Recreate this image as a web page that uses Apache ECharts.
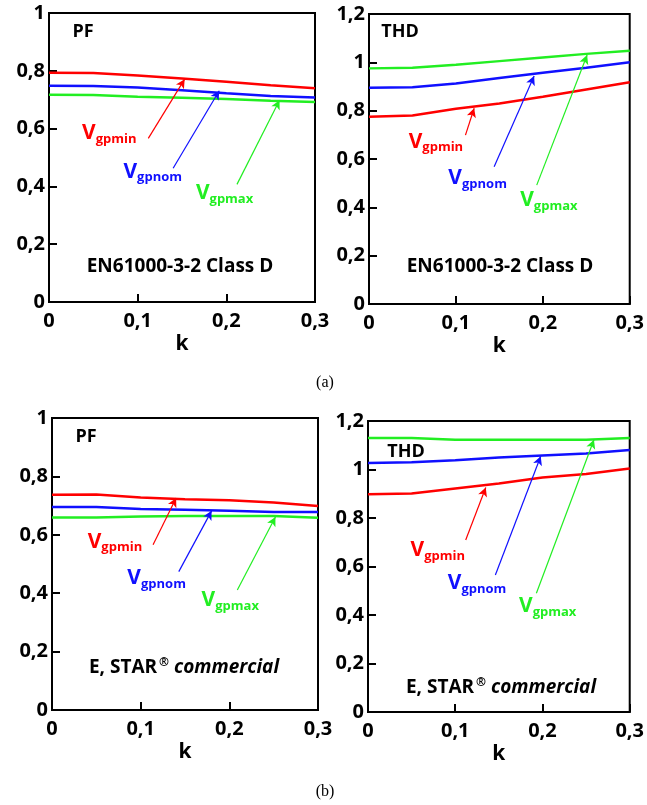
<!DOCTYPE html>
<html>
<head>
<meta charset="utf-8">
<script src="https://cdn.jsdelivr.net/npm/echarts@6/dist/echarts.min.js"></script>
<style>
  html, body { margin: 0; padding: 0; background: #fff; }
  #main { width: 647px; height: 805px; }
</style>
</head>
<body>
<div id="main"></div>
<script>
// k values shared by all four panels
var kVals = [0, 0.05, 0.1, 0.15, 0.2, 0.25, 0.3];

// (a) EN61000-3-2 Class D
var pfA_min = [0.793, 0.792, 0.784, 0.773, 0.762, 0.750, 0.740];
var pfA_nom = [0.748, 0.747, 0.742, 0.733, 0.722, 0.713, 0.708];
var pfA_max = [0.717, 0.716, 0.710, 0.707, 0.702, 0.696, 0.692];
var thdA_min = [0.775, 0.780, 0.808, 0.830, 0.858, 0.888, 0.918];
var thdA_nom = [0.895, 0.897, 0.912, 0.935, 0.957, 0.978, 1.000];
var thdA_max = [0.975, 0.978, 0.990, 1.005, 1.020, 1.035, 1.048];

// (b) E, STAR commercial
var pfB_min = [0.737, 0.738, 0.728, 0.722, 0.718, 0.711, 0.699];
var pfB_nom = [0.695, 0.695, 0.688, 0.686, 0.682, 0.678, 0.678];
var pfB_max = [0.659, 0.659, 0.663, 0.664, 0.664, 0.664, 0.658];
var thdB_min = [0.898, 0.901, 0.922, 0.942, 0.967, 0.981, 1.004];
var thdB_nom = [1.027, 1.030, 1.038, 1.049, 1.058, 1.066, 1.080];
var thdB_max = [1.130, 1.130, 1.123, 1.123, 1.123, 1.123, 1.130];

// annotation label + arrow positions: [labelX, labelY, fromX, fromY, toX, toY]
var notesPfA = {
  min: [0.068, 0.583, 0.112, 0.566, 0.153, 0.771],
  nom: [0.117, 0.451, 0.140, 0.463, 0.192, 0.731],
  max: [0.198, 0.376, 0.212, 0.407, 0.260, 0.698]
};
var notesThdA = {
  min: [0.077, 0.672, 0.111, 0.699, 0.121, 0.810],
  nom: [0.125, 0.520, 0.144, 0.568, 0.190, 0.943],
  max: [0.207, 0.430, 0.193, 0.492, 0.251, 1.030]
};
var notesPfB = {
  min: [0.071, 0.577, 0.114, 0.566, 0.140, 0.726],
  nom: [0.118, 0.451, 0.143, 0.474, 0.180, 0.682],
  max: [0.201, 0.377, 0.209, 0.411, 0.252, 0.661]
};
var notesThdB = {
  min: [0.080, 0.668, 0.112, 0.709, 0.135, 0.926],
  nom: [0.125, 0.531, 0.146, 0.565, 0.198, 1.055],
  max: [0.206, 0.435, 0.193, 0.490, 0.259, 1.123]
};

var RED = '#ff0000', BLUE = '#1010ff', GREEN = '#22ee22';
var FONT = 'Open Sans';

function fmt(v) {
  if (Math.abs(v - Math.round(v)) < 1e-9) return String(Math.round(v));
  return v.toFixed(1).replace('.', ',');
}

function pairs(ys) {
  return kVals.map(function (k, i) { return [k, ys[i]]; });
}

function mkSeries(idx, ys, color, note, sub) {
  return {
    type: 'line',
    xAxisIndex: idx,
    yAxisIndex: idx,
    data: pairs(ys),
    showSymbol: false,
    smooth: false,
    lineStyle: { color: color, width: 2.5 },
    itemStyle: { color: color },
    silent: true,
    markLine: {
      silent: true,
      symbol: ['none', 'arrow'],
      symbolSize: [7, 9],
      label: { show: false },
      lineStyle: { color: color, width: 1.2, type: 'solid' },
      data: [[{ coord: [note[2], note[3]] }, { coord: [note[4], note[5]] }]]
    },
    markPoint: {
      silent: true,
      symbol: 'circle',
      symbolSize: 0,
      data: [{
        coord: [note[0], note[1]],
        label: {
          show: true,
          position: 'inside',
          formatter: '{v|V}{s|' + sub + '}',
          rich: {
            v: { fontFamily: FONT, fontWeight: 'bold', fontSize: 21, color: color },
            s: { fontFamily: FONT, fontWeight: 'bold', fontSize: 13, color: color, padding: [12, 0, 0, 0] }
          }
        }
      }]
    }
  };
}

var grids = [
  { left: 49, top: 13, width: 266, height: 289 },
  { left: 369, top: 14, width: 263, height: 290 },
  { left: 52, top: 418, width: 266, height: 292 },
  { left: 368, top: 421, width: 265, height: 291 }
];

function xAx(i) {
  return {
    gridIndex: i, type: 'value', min: 0, max: 0.3, interval: 0.1,
    name: 'k', nameLocation: 'middle', nameGap: 32,
    nameTextStyle: { fontFamily: FONT, fontWeight: 'bold', fontSize: 21, color: '#000' },
    axisLine: { lineStyle: { color: '#000', width: 2 } },
    axisTick: { inside: true, length: 8, lineStyle: { color: '#000', width: 2 } },
    axisLabel: { formatter: fmt, fontFamily: FONT, fontWeight: 'bold', fontSize: 20, color: '#000', margin: 9 },
    splitLine: { show: false }
  };
}
function yAx(i, max) {
  return {
    gridIndex: i, type: 'value', min: 0, max: max, interval: 0.2,
    axisLine: { lineStyle: { color: '#000', width: 2 } },
    axisTick: { inside: true, length: 8, lineStyle: { color: '#000', width: 2 } },
    axisLabel: { formatter: fmt, fontFamily: FONT, fontWeight: 'bold', fontSize: 20, color: '#000', margin: 4 },
    splitLine: { show: false }
  };
}

var starText = function (x, y) {
  return { type: 'text', x: x, y: y, style: {
    text: '{n|E, STAR}{r|®}{i| commercial}', align: 'center', verticalAlign: 'middle',
    rich: {
      n: { fontFamily: FONT, fontWeight: 'bold', fontSize: 19, fill: '#000' },
      r: { fontFamily: FONT, fontWeight: 'bold', fontSize: 12, fill: '#000', padding: [0, 0, 10, 2] },
      i: { fontFamily: FONT, fontWeight: 'bold', fontStyle: 'italic', fontSize: 19, fill: '#000' }
    } } };
};

var chart = echarts.init(document.getElementById('main'));
chart.setOption({
  backgroundColor: '#fff',
  animation: false,
  grid: grids.map(function (g) {
    return Object.assign({ show: true, borderColor: '#000', borderWidth: 2, backgroundColor: 'transparent' }, g);
  }),
  xAxis: [xAx(0), xAx(1), xAx(2), xAx(3)],
  yAxis: [yAx(0, 1), yAx(1, 1.2), yAx(2, 1), yAx(3, 1.2)],
  series: [
    mkSeries(0, pfA_min, RED, notesPfA.min, 'gpmin'),
    mkSeries(0, pfA_nom, BLUE, notesPfA.nom, 'gpnom'),
    mkSeries(0, pfA_max, GREEN, notesPfA.max, 'gpmax'),
    mkSeries(1, thdA_min, RED, notesThdA.min, 'gpmin'),
    mkSeries(1, thdA_nom, BLUE, notesThdA.nom, 'gpnom'),
    mkSeries(1, thdA_max, GREEN, notesThdA.max, 'gpmax'),
    mkSeries(2, pfB_min, RED, notesPfB.min, 'gpmin'),
    mkSeries(2, pfB_nom, BLUE, notesPfB.nom, 'gpnom'),
    mkSeries(2, pfB_max, GREEN, notesPfB.max, 'gpmax'),
    mkSeries(3, thdB_min, RED, notesThdB.min, 'gpmin'),
    mkSeries(3, thdB_nom, BLUE, notesThdB.nom, 'gpnom'),
    mkSeries(3, thdB_max, GREEN, notesThdB.max, 'gpmax')
  ],
  graphic: [
    { type: 'text', x: 83, y: 32, style: { text: 'PF', font: 'bold 18px "Open Sans"', fill: '#000', align: 'center', verticalAlign: 'middle' } },
    { type: 'text', x: 400, y: 32, style: { text: 'THD', font: 'bold 18px "Open Sans"', fill: '#000', align: 'center', verticalAlign: 'middle' } },
    { type: 'text', x: 180, y: 267, style: { text: 'EN61000-3-2 Class D', font: 'bold 19px "Open Sans"', fill: '#000', align: 'center', verticalAlign: 'middle' } },
    { type: 'text', x: 500, y: 267, style: { text: 'EN61000-3-2 Class D', font: 'bold 19px "Open Sans"', fill: '#000', align: 'center', verticalAlign: 'middle' } },
    { type: 'text', x: 86, y: 437, style: { text: 'PF', font: 'bold 18px "Open Sans"', fill: '#000', align: 'center', verticalAlign: 'middle' } },
    { type: 'text', x: 406, y: 452, style: { text: 'THD', font: 'bold 18px "Open Sans"', fill: '#000', align: 'center', verticalAlign: 'middle' } },
    starText(184, 668),
    starText(501, 688),
    { type: 'text', x: 325, y: 383, style: { text: '(a)', font: '16px "Liberation Serif"', fill: '#000', align: 'center', verticalAlign: 'middle' } },
    { type: 'text', x: 325, y: 792, style: { text: '(b)', font: '16px "Liberation Serif"', fill: '#000', align: 'center', verticalAlign: 'middle' } }
  ]
});
</script>
</body>
</html>
